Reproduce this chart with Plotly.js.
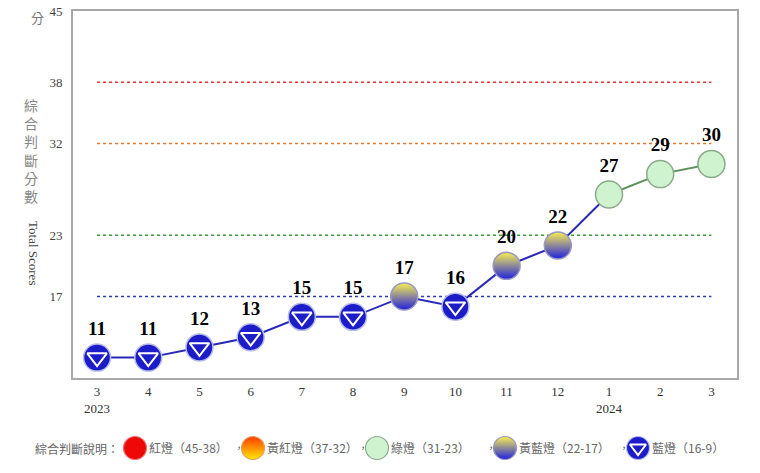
<!DOCTYPE html>
<html lang="zh-Hant">
<head>
<meta charset="utf-8">
<script src="https://cdn.plot.ly/plotly-3.0.1.min.js"></script>
<style>
  body { margin: 0; background: #fff; }
  #chart { width: 760px; height: 473px; }
</style>
</head>
<body>
<div id="chart"></div>
<script>
// monthly composite scores, 2023-03 .. 2024-03
const periods = ['2023-03', '2023-04', '2023-05', '2023-06', '2023-07', '2023-08', '2023-09',
  '2023-10', '2023-11', '2023-12', '2024-01', '2024-02', '2024-03'];
const monthLabels = ['3<br>2023', '4', '5', '6', '7', '8', '9', '10', '11', '12', '1<br>2024', '2', '3'];
const scores = [11, 11, 12, 13, 15, 15, 17, 16, 20, 22, 27, 29, 30];
const lights = ['blue', 'blue', 'blue', 'blue', 'blue', 'blue', 'yellowblue', 'blue',
  'yellowblue', 'yellowblue', 'green', 'green', 'green'];

const yTicks = [17, 23, 32, 38, 45];
const thresholds = [38, 32, 23, 17];
const thresholdColors = ['#e03030', '#e07830', '#3a9a3a', '#2a3aa8'];

const legendLights = ['red', 'yellowred', 'green', 'yellowblue', 'blue'];
const legendLabels = ['紅燈（45-38）', '黃紅燈（37-32）', '綠燈（31-23）', '黃藍燈（22-17）', '藍燈（16-9）'];

// light styles (vertical gradient: color on top, gcolor at bottom)
const lightStyle = {
  red:        { color: '#ee0808', grad: 'none', gcolor: '#ee0808', line: '#f07070' },
  yellowred:  { color: '#ff3a00', grad: 'vertical', gcolor: '#ffe800', line: '#e8a060' },
  green:      { color: '#cff3cf', grad: 'none', gcolor: '#cff3cf', line: '#8aaa8a' },
  yellowblue: { color: '#faf050', grad: 'vertical', gcolor: '#2020e0', line: '#9898c0' },
  blue:       { color: '#1c1cc8', grad: 'none', gcolor: '#1c1cc8', line: '#b8bce8' }
};

const W = 760, H = 473;
const px = x => x / W;
const py = y => 1 - y / H;

const serif = 'Liberation Serif, Times New Roman, serif';
const cjk = 'Noto Sans CJK TC, sans-serif';

// split line into blue / green sections
const firstGreen = lights.indexOf('green');
const blueY = scores.map((v, i) => i <= firstGreen ? v : null);
const greenY = scores.map((v, i) => i >= firstGreen ? v : null);

const data = [
  {
    x: periods, y: blueY, type: 'scatter', mode: 'lines',
    line: { color: '#2828b8', width: 2 }, hoverinfo: 'skip', showlegend: false
  },
  {
    x: periods, y: greenY, type: 'scatter', mode: 'lines',
    line: { color: '#5e905e', width: 2 }, hoverinfo: 'skip', showlegend: false
  },
  {
    x: periods, y: scores, type: 'scatter', mode: 'markers+text',
    text: scores.map(v => '<b>' + v + '</b>'),
    textposition: 'top center',
    textfont: { family: serif, size: 19, color: '#000' },
    marker: {
      symbol: 'circle', size: 27,
      color: lights.map(l => lightStyle[l].color),
      gradient: { type: lights.map(l => lightStyle[l].grad), color: lights.map(l => lightStyle[l].gcolor) },
      line: { color: lights.map(l => lightStyle[l].line), width: 1.5 }
    },
    showlegend: false
  },
  {
    x: periods.filter((p, i) => lights[i] === 'blue'),
    y: scores.filter((v, i) => lights[i] === 'blue'),
    type: 'scatter', mode: 'markers',
    marker: { symbol: 'triangle-down-open', size: 17, color: '#ffffff', line: { width: 2 } },
    hoverinfo: 'skip', showlegend: false
  }
];

// legend row, drawn on a hidden pixel axis
const legendX = [135, 253, 377, 505, 638];
data.push({
  x: legendX, y: legendLights.map(() => 25), xaxis: 'x2', yaxis: 'y2',
  type: 'scatter', mode: 'markers',
  marker: {
    symbol: 'circle', size: 23,
    color: legendLights.map(l => lightStyle[l].color),
    gradient: { type: legendLights.map(l => lightStyle[l].grad), color: legendLights.map(l => lightStyle[l].gcolor) },
    line: { color: legendLights.map(l => lightStyle[l].line), width: 1.2 }
  },
  hoverinfo: 'skip', showlegend: false
});
data.push({
  x: [legendX[4]], y: [25], xaxis: 'x2', yaxis: 'y2',
  type: 'scatter', mode: 'markers',
  marker: { symbol: 'triangle-down-open', size: 14, color: '#ffffff', line: { width: 2 } },
  hoverinfo: 'skip', showlegend: false
});

const shapes = thresholds.map((t, i) => ({
  type: 'line', xref: 'x', yref: 'y',
  x0: periods[0], x1: periods[periods.length - 1], y0: t, y1: t,
  line: { color: thresholdColors[i], width: 1.5, dash: 'dot' },
  layer: 'below'
}));

const annotations = [
  { text: '分', x: px(37), y: py(18), font: { family: cjk, size: 13, color: '#777' } },
  { text: '綜<br>合<br>判<br>斷<br>分<br>數', x: px(31), y: py(150), font: { family: cjk, size: 14, color: '#888' } },
  { text: 'Total Scores', x: px(33), y: py(253), textangle: 90, font: { family: serif, size: 13, color: '#444' } },
  { text: '綜合判斷說明：', x: px(33), y: py(448), xanchor: 'left', font: { family: cjk, size: 12, color: '#666' } }
].map(a => Object.assign({ xref: 'paper', yref: 'paper', showarrow: false, xanchor: 'center', yanchor: 'middle' }, a));

legendLabels.forEach((lab, i) => {
  annotations.push({
    text: lab, xref: 'x2', yref: 'y2', x: legendX[i] + 12, y: 25, xanchor: 'left', yanchor: 'middle',
    showarrow: false, font: { family: cjk, size: 12, color: '#666' }
  });
  if (i < legendLabels.length - 1) {
    annotations.push({
      text: '，', xref: 'x2', yref: 'y2', x: legendX[i + 1] - 14, y: 25, xanchor: 'center', yanchor: 'middle',
      showarrow: false, font: { family: cjk, size: 10, color: '#666' }
    });
  }
});

const layout = {
  width: W, height: H,
  margin: { l: 0, r: 0, t: 0, b: 0 },
  paper_bgcolor: '#ffffff', plot_bgcolor: '#ffffff',
  showlegend: false,
  xaxis: {
    type: 'category', domain: [px(73), px(737)],
    range: [-0.47, 12.5],
    tickmode: 'array', tickvals: periods, ticktext: monthLabels,
    tickfont: { family: serif, size: 13, color: '#333' },
    showgrid: false, zeroline: false, ticks: '',
    showline: true, mirror: true, linecolor: '#a8a8a8', linewidth: 2,
    ticklabelstandoff: 0
  },
  yaxis: {
    domain: [py(378), py(11)],
    range: [9, 45],
    tickmode: 'array', tickvals: yTicks,
    tickfont: { family: serif, size: 13, color: '#444' },
    showgrid: false, zeroline: false, ticks: '',
    showline: true, mirror: true, linecolor: '#a8a8a8', linewidth: 2,
    ticklabelstandoff: 6
  },
  xaxis2: { domain: [0, 1], range: [0, W], anchor: 'y2', visible: false, fixedrange: true },
  yaxis2: { domain: [0, py(378) - 0.01], range: [0, H * (py(378) - 0.01)], anchor: 'x2', visible: false, fixedrange: true },
  shapes: shapes,
  annotations: annotations
};

Plotly.newPlot('chart', data, layout, { displayModeBar: false, staticPlot: true });
</script>
</body>
</html>
